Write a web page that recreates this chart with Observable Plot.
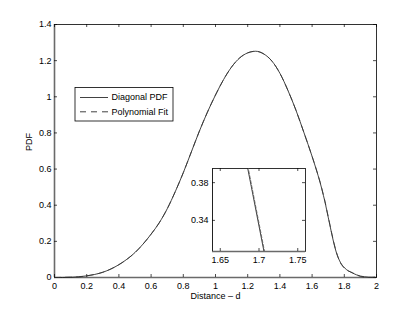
<!DOCTYPE html>
<html><head><meta charset="utf-8">
<script src="https://cdn.jsdelivr.net/npm/d3@7"></script>
<script src="https://cdn.jsdelivr.net/npm/@observablehq/plot@0.6"></script>
<style>
body{margin:0;background:#fff}
#wrap{position:relative;width:415px;height:313px;overflow:hidden}
#wrap svg{position:absolute;background:transparent}
</style>
</head><body><div id="wrap"></div>
<script>
// ---- data ----
const distance = [0, 0.05, 0.1, 0.15, 0.2, 0.25, 0.3, 0.35, 0.4, 0.45, 0.5, 0.55, 0.6, 0.65, 0.7, 0.75, 0.8, 0.85, 0.9, 0.95,
  1.0, 1.05, 1.1, 1.15, 1.2, 1.25, 1.3, 1.35, 1.4, 1.45, 1.5, 1.55, 1.6, 1.625, 1.65, 1.67, 1.68, 1.69, 1.70, 1.71, 1.72, 1.735, 1.75, 1.775, 1.8, 1.85, 1.9, 1.95, 2.0];
const diagonalPdf = [0, 0.0002, 0.001, 0.004, 0.009, 0.017, 0.029, 0.047, 0.071, 0.101, 0.138, 0.185, 0.24, 0.302, 0.38, 0.475, 0.58, 0.695, 0.81, 0.915,
  1.01, 1.095, 1.165, 1.215, 1.243, 1.252, 1.237, 1.198, 1.13, 1.035, 0.925, 0.8, 0.67, 0.6, 0.525, 0.455, 0.418, 0.376, 0.334, 0.292, 0.25, 0.19, 0.14, 0.085, 0.055, 0.025, 0.008, 0.002, 0];
const polynomialFit = [0, 0.001, 0.002, 0.003, 0.009, 0.017, 0.029, 0.047, 0.071, 0.101, 0.138, 0.185, 0.24, 0.302, 0.38, 0.475, 0.58, 0.695, 0.81, 0.915,
  1.01, 1.095, 1.165, 1.215, 1.243, 1.252, 1.237, 1.198, 1.13, 1.035, 0.925, 0.8, 0.67, 0.601, 0.527, 0.458, 0.421, 0.379, 0.337, 0.295, 0.253, 0.194, 0.143, 0.083, 0.052, 0.027, 0.006, 0.0, 0.004];
const xTicks = [0, 0.2, 0.4, 0.6, 0.8, 1, 1.2, 1.4, 1.6, 1.8, 2];
const yTicks = [0, 0.2, 0.4, 0.6, 0.8, 1, 1.2, 1.4];
const insetXTicks = [1.65, 1.7, 1.75];
const insetYTicks = [0.34, 0.38];
const seriesNames = ["Diagonal PDF", "Polynomial Fit"];
const xLabel = "Distance \u2013 d";
const yLabel = "PDF";

const pdfRows = distance.map((d, i) => ({d, v: diagonalPdf[i]}));
const fitRows = distance.map((d, i) => ({d, v: polynomialFit[i]}));

// ---- layout ----
const W = 415, H = 313;
const M = {l: 54, r: 39, t: 24, b: 36};
const iw = W - M.l - M.r, ih = H - M.t - M.b;
const font = "'Liberation Sans', Arial, sans-serif";
const dash = "6,5";
const fmt = d3.format("~g");

function inwardTicks(xt, yt, iw, ih, len) {
  return [
    Plot.tickX(xt, {x: d => d, insetTop: ih - len, stroke: "#000", strokeWidth: 0.7}),
    Plot.tickX(xt, {x: d => d, insetBottom: ih - len, stroke: "#000", strokeWidth: 0.7}),
    Plot.tickY(yt, {y: d => d, insetRight: iw - len, stroke: "#000", strokeWidth: 0.7}),
    Plot.tickY(yt, {y: d => d, insetLeft: iw - len, stroke: "#000", strokeWidth: 0.7})
  ];
}

const main = Plot.plot({
  width: W, height: H,
  marginLeft: M.l, marginRight: M.r, marginTop: M.t, marginBottom: M.b,
  style: {fontFamily: font, fontSize: "9px", color: "#000", background: "transparent"},
  x: {domain: [0, 2], ticks: xTicks, tickFormat: fmt, tickSize: 0, tickPadding: 5, label: null},
  y: {domain: [0, 1.4], ticks: yTicks, tickFormat: fmt, tickSize: 0, tickPadding: 3, label: null},
  marks: [
    Plot.frame({stroke: "#000", strokeWidth: 0.8}),
    Plot.ruleX([0], {stroke: "#6a6a6a", strokeWidth: 1.6}),
    Plot.ruleY([0], {stroke: "#6a6a6a", strokeWidth: 1.6}),
    ...inwardTicks(xTicks, yTicks, iw, ih, 3),
    Plot.line(pdfRows, {x: "d", y: "v", curve: "monotone-x", stroke: "#111", strokeWidth: 0.8}),
    Plot.line(fitRows, {x: "d", y: "v", curve: "monotone-x", stroke: "#333", strokeWidth: 0.8, strokeDasharray: dash}),
    Plot.text([yLabel], {frameAnchor: "left", dx: -25, rotate: -90, fontSize: 9, fill: "#000"}),
    Plot.text([xLabel], {frameAnchor: "bottom", dy: 21.5, fontSize: 9, fill: "#000"})
  ]
});

// legend (inside the axes, like MATLAB)
const svg = d3.select(main);
const L = {x: 75, y: 87.5, w: 98, h: 33.5, lx0: 80, lx1: 108, tx: 111.5, row0: 97.5, rowStep: 14.3};
const g = svg.append("g").attr("text-anchor", "start");
g.append("rect").attr("x", L.x).attr("y", L.y).attr("width", L.w).attr("height", L.h)
  .attr("fill", "#fff").attr("stroke", "#000").attr("stroke-width", 0.8);
seriesNames.forEach((name, i) => {
  const yy = L.row0 + i * L.rowStep;
  g.append("line").attr("x1", L.lx0).attr("x2", L.lx1).attr("y1", yy).attr("y2", yy)
    .attr("stroke", "#111").attr("stroke-width", 0.8)
    .attr("stroke-dasharray", i === 1 ? dash : null);
  g.append("text").attr("x", L.tx).attr("y", yy).attr("dy", "0.33em").attr("text-anchor", "start")
    .attr("font-family", font).attr("font-size", 9).attr("fill", "#000").text(name);
});

// ---- inset ----
const IM = {l: 30, r: 3, t: 2, b: 20};
const iW = 93, iH = 83;
const inset = Plot.plot({
  width: IM.l + iW + IM.r, height: IM.t + iH + IM.b,
  marginLeft: IM.l, marginRight: IM.r, marginTop: IM.t, marginBottom: IM.b,
  style: {fontFamily: font, fontSize: "9px", color: "#000", background: "transparent", overflow: "visible"},
  x: {domain: [1.64, 1.76], ticks: insetXTicks, tickFormat: fmt, tickSize: 0, tickPadding: 5, label: null},
  y: {domain: [0.307, 0.395], ticks: insetYTicks, tickFormat: fmt, tickSize: 0, tickPadding: 4, label: null},
  marks: [
    Plot.frame({fill: "#fff", stroke: "#000", strokeWidth: 0.8}),
    Plot.ruleY([0.307], {stroke: "#6a6a6a", strokeWidth: 1.6}),
    Plot.ruleX([1.64], {stroke: "#222", strokeWidth: 1}),
    ...inwardTicks(insetXTicks, insetYTicks, iW, iH, 3),
    Plot.line(pdfRows.filter(r => r.d >= 1.65 && r.d <= 1.75), {x: "d", y: "v", stroke: "#111", strokeWidth: 0.8, clip: true}),
    Plot.line(fitRows.filter(r => r.d >= 1.65 && r.d <= 1.75), {x: "d", y: "v", stroke: "#555", strokeWidth: 0.8, strokeDasharray: "3,2", clip: true})
  ]
});

const wrap = document.getElementById("wrap");
main.style.left = "0px"; main.style.top = "0px";
inset.style.left = (212 - IM.l) + "px"; inset.style.top = (168 - IM.t) + "px";
wrap.append(main);
wrap.append(inset);
</script>
</body></html>
